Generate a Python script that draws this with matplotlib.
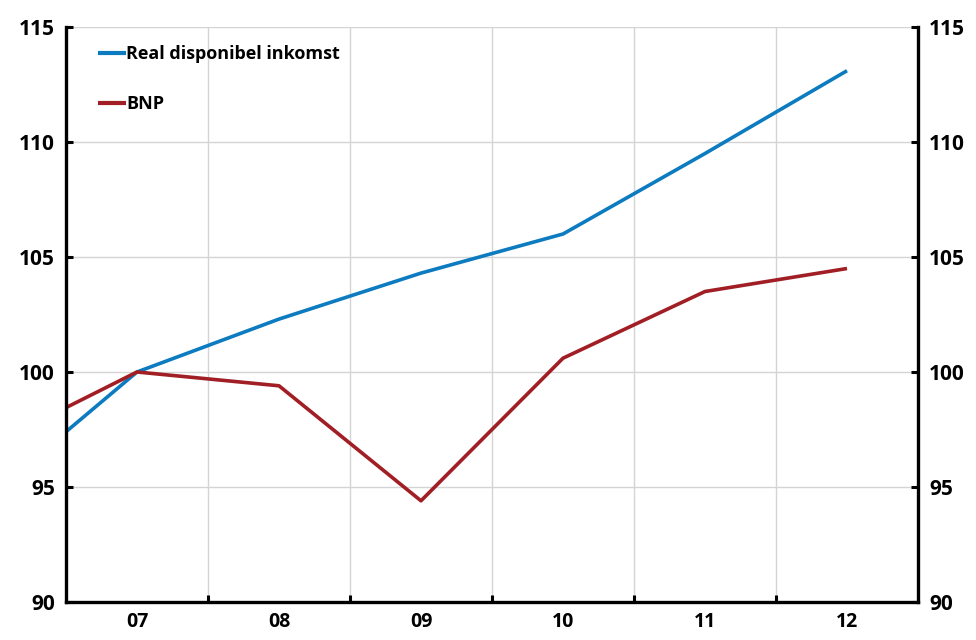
import matplotlib
matplotlib.use('Agg')
import matplotlib.pyplot as plt
from matplotlib.ticker import FixedLocator

plt.rcParams['font.family'] = ['Open Sans', 'DejaVu Sans']
plt.rcParams['font.weight'] = 'bold'

# Data (index, 2007 = 100)
years = [2006, 2007, 2008, 2009, 2010, 2011, 2012]
real_income = [94.8, 100.0, 102.3, 104.3, 106.0, 109.5, 113.1]
bnp = [96.9, 100.0, 99.4, 94.4, 100.6, 103.5, 104.5]
year_labels = ['07', '08', '09', '10', '11', '12']
y_ticks = [90, 95, 100, 105, 110, 115]

blue = '#0C7BC0'
red = '#A01E24'

fig = plt.figure(figsize=(9.76, 6.4), dpi=100)
ax = fig.add_axes([0.0676, 0.0594, 0.8730, 0.8984])

ax.plot(years, real_income, color=blue, linewidth=2.6, label='Real disponibel inkomst',
        solid_capstyle='butt')
ax.plot(years, bnp, color=red, linewidth=2.6, label='BNP', solid_capstyle='butt')

ax.set_xlim(2006.5, 2012.5)
ax.set_ylim(90, 115)

# x: gridlines/ticks between years, labels centered on years
ax.xaxis.set_major_locator(FixedLocator([2007.5, 2008.5, 2009.5, 2010.5, 2011.5]))
ax.xaxis.set_minor_locator(FixedLocator(years[1:]))
ax.set_xticklabels([], minor=False)
ax.set_xticklabels(year_labels, minor=True, fontweight='bold')
ax.tick_params(axis='x', which='major', direction='in', length=5, width=2.2)
ax.tick_params(axis='x', which='minor', length=0, pad=7, labelsize=14)

ax.set_yticks(y_ticks)
ax.set_yticklabels([str(v) for v in y_ticks], fontweight='bold')
ax.tick_params(axis='y', which='major', direction='in', length=5, width=2.2,
               left=True, right=True, labelleft=True, labelright=True,
               labelsize=15, pad=8)
for t in ax.yaxis.get_major_ticks():
    t.label2.set_fontweight('bold')

ax.grid(True, which='major', color='#D4D4D4', linewidth=1.0)
ax.set_axisbelow(True)

for side in ['left', 'right', 'bottom']:
    ax.spines[side].set_linewidth(2.4)
    ax.spines[side].set_color('black')
ax.spines['top'].set_visible(False)

leg = ax.legend(loc='upper left', bbox_to_anchor=(0.018, 0.997), frameon=False,
                handlelength=1.6, handletextpad=0.0, labelspacing=1.8,
                prop={'weight': 'bold', 'size': 13})
for line in leg.get_lines():
    line.set_linewidth(3)

fig.savefig('out.png', dpi=100)
